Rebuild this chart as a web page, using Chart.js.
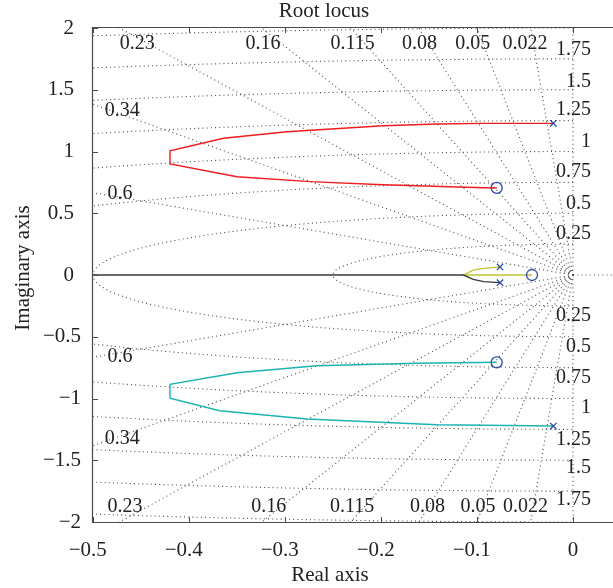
<!DOCTYPE html>
<html><head><meta charset="utf-8">
<script src="https://cdn.jsdelivr.net/npm/chart.js@4/dist/chart.umd.min.js"></script>
<style>
html,body{margin:0;padding:0;background:#fff;overflow:hidden;width:613px;height:588px;}
#wrap{position:relative;width:640px;height:588px;}
canvas{display:block;}
</style></head><body>
<div id="wrap"><canvas id="c" width="640" height="588"></canvas></div>
<script>
// ---- axis ticks ----
const xTicks = [-0.5, -0.4, -0.3, -0.2, -0.1, 0];
const yTicks = [-2, -1.5, -1, -0.5, 0, 0.5, 1, 1.5, 2];

// ---- grid (sgrid) values ----
const zetaValues = [0.022, 0.05, 0.08, 0.115, 0.16, 0.23, 0.34, 0.6];
const wnValues = [0.25, 0.5, 0.75, 1, 1.25, 1.5, 1.75, 2];
const wnLabels = ['0.25', '0.5', '0.75', '1', '1.25', '1.5', '1.75'];
const wnLabelY = [0.33, 0.58, 0.835, 1.077, 1.336, 1.564, 1.822];
const zetaTopLabels = ['0.022', '0.05', '0.08', '0.115', '0.16', '0.23'];
const zetaTopX = [-0.050, -0.1045, -0.160, -0.2295, -0.323, -0.454];
const zetaBotX = [-0.0496, -0.099, -0.1516, -0.230, -0.317, -0.4667];
const zetaSideLabels = ['0.34', '0.6'];
const zetaSideX = [-0.4695, -0.472];
const zetaSideY = [1.328, 0.66];

// ---- root locus branches ----
const redX = [-0.0205, -0.0934, -0.142, -0.1976, -0.298, -0.364, -0.4198, -0.4198, -0.350, -0.274, -0.198, -0.0934, -0.0795];
const redY = [1.228, 1.228, 1.223, 1.209, 1.160, 1.107, 1.006, 0.899, 0.796, 0.756, 0.731, 0.707, 0.704];
const cyanX = [-0.0795, -0.163, -0.267, -0.350, -0.4198, -0.4198, -0.368, -0.277, -0.142, -0.0205];
const cyanY = [-0.707, -0.715, -0.735, -0.791, -0.885, -0.998, -1.099, -1.166, -1.212, -1.223];
const yellowX = [-0.0427, -0.114, -0.104, -0.093, -0.076];
const yellowY = [0, 0, 0.040, 0.054, 0.065];
const blackX = [-0.55, -0.114, -0.104, -0.093, -0.076];
const blackY = [0, 0, -0.035, -0.054, -0.062];
const polesX = [-0.0205, -0.0205, -0.076, -0.076];
const polesY = [1.228, -1.223, 0.065, -0.062];
const zerosX = [-0.0795, -0.0795, -0.0427];
const zerosY = [0.705, -0.707, 0];

const pts = (xs, ys) => xs.map((x, i) => ({x: x, y: ys[i]}));

const GRID = '#4a4a4a';
const datasets = [];
datasets.push({data: pts(polesX, polesY), pointStyle: 'crossRot', pointRadius: 4.5, borderColor: '#2c4aa8', borderWidth: 1.3, backgroundColor: 'rgba(0,0,0,0)', showLine: false, order: 0});
datasets.push({data: pts(zerosX, zerosY), pointStyle: 'circle', pointRadius: 5.5, borderColor: '#2c4aa8', borderWidth: 1.3, backgroundColor: 'rgba(0,0,0,0)', showLine: false, order: 0});
const branch = (xs, ys, c) => ({data: pts(xs, ys), showLine: true, pointRadius: 0, borderColor: c, borderWidth: 1.4, tension: 0, fill: false, order: 1});
datasets.push(branch(redX, redY, '#f21c1c'));
datasets.push(branch(cyanX, cyanY, '#1bb3b3'));
datasets.push(branch(blackX, blackY, '#3a3a3a'));
datasets.push(branch(yellowX, yellowY, '#c4c434'));

const gridLine = (data) => ({data: data, showLine: true, pointRadius: 0, borderColor: GRID, borderWidth: 1.1, borderDash: [1, 3.2], tension: 0, fill: false, order: 5});
// damping lines (from origin outwards)
const R = 2.6;
zetaValues.forEach(z => {
  const s = Math.sqrt(1 - z * z);
  datasets.push(gridLine([{x: 0, y: 0}, {x: -R * z, y: R * s}]));
  datasets.push(gridLine([{x: 0, y: 0}, {x: -R * z, y: -R * s}]));
});
// zeta = 0 and zeta = 1 lines
datasets.push(gridLine([{x: 0, y: 0}, {x: 0, y: 2.2}]));
datasets.push(gridLine([{x: 0, y: 0}, {x: 0, y: -2.2}]));
datasets.push(gridLine([{x: 0, y: 0}, {x: 0.06, y: 0}]));
// natural frequency circles
wnValues.forEach(w => {
  const arc = [];
  for (let k = 0; k <= 1440; k++) {
    const a = Math.PI / 2 + Math.PI * k / 1440;
    arc.push({x: w * Math.cos(a), y: w * Math.sin(a)});
  }
  datasets.push(gridLine(arc));
});

const FONT = '"Liberation Serif", "Times New Roman", serif';
const TXT = '#222';

const decor = {
  id: 'decor',
  afterDraw(chart) {
    const ctx = chart.ctx, xs = chart.scales.x, ys = chart.scales.y, a = chart.chartArea;
    ctx.save();
    // frame
    ctx.strokeStyle = '#4a4a4a';
    ctx.lineWidth = 1.2;
    ctx.beginPath();
    ctx.moveTo(a.right + 5, a.top - 0.5); ctx.lineTo(a.left - 0.5, a.top - 0.5);
    ctx.lineTo(a.left - 0.5, a.bottom + 0.5); ctx.lineTo(a.right + 5, a.bottom + 0.5);
    ctx.stroke();
    // inward ticks
    ctx.lineWidth = 1;
    ctx.beginPath();
    xTicks.forEach(v => {
      const p = Math.round(xs.getPixelForValue(v)) + 0.5;
      ctx.moveTo(p, a.bottom); ctx.lineTo(p, a.bottom - 5);
      ctx.moveTo(p, a.top); ctx.lineTo(p, a.top + 5);
    });
    yTicks.forEach(v => {
      const p = Math.round(ys.getPixelForValue(v)) + 0.5;
      ctx.moveTo(a.left, p); ctx.lineTo(a.left + 5, p);
    });
    ctx.stroke();
    // grid labels
    ctx.fillStyle = TXT;
    ctx.font = '20px ' + FONT;
    ctx.textBaseline = 'middle';
    ctx.textAlign = 'center';
    zetaTopLabels.forEach((t, i) => {
      ctx.fillText(t, xs.getPixelForValue(zetaTopX[i]), ys.getPixelForValue(1.87));
      ctx.fillText(t, xs.getPixelForValue(zetaBotX[i]), ys.getPixelForValue(-1.879));
    });
    zetaSideLabels.forEach((t, i) => {
      ctx.fillText(t, xs.getPixelForValue(zetaSideX[i]), ys.getPixelForValue(zetaSideY[i]));
      ctx.fillText(t, xs.getPixelForValue(zetaSideX[i]), ys.getPixelForValue(-zetaSideY[i]));
    });
    ctx.textAlign = 'right';
    wnLabels.forEach((t, i) => {
      ctx.fillText(t, xs.getPixelForValue(0.0188), ys.getPixelForValue(wnLabelY[i]));
      ctx.fillText(t, xs.getPixelForValue(0.0188), ys.getPixelForValue(-wnLabelY[i]));
    });
    // titles
    ctx.font = '21px ' + FONT;
    ctx.textAlign = 'center';
    ctx.textBaseline = 'alphabetic';
    ctx.fillText('Root locus', 324, 17);
    ctx.fillText('Real axis', 330, 581);
    ctx.translate(29, 268);
    ctx.rotate(-Math.PI / 2);
    ctx.fillText('Imaginary axis', 0, 0);
    ctx.restore();
  }
};

const fmt = v => {
  const s = String(Math.round(v * 10) / 10);
  return s.replace('-', '\u2212');
};

new Chart(document.getElementById('c'), {
  type: 'scatter',
  data: {datasets: datasets},
  options: {
    animation: false,
    responsive: false,
    devicePixelRatio: 1,
    events: [],
    layout: {padding: {left: 0, right: 19, top: 28, bottom: 0}},
    plugins: {legend: {display: false}, tooltip: {enabled: false}, title: {display: false}},
    scales: {
      x: {
        type: 'linear', min: -0.5, max: 0.05,
        grid: {display: false}, border: {display: false},
        afterBuildTicks: s => { s.ticks = xTicks.map(v => ({value: v})); },
        afterFit: s => { s.height = 66; },
        ticks: {
          padding: 8, color: TXT, font: {family: FONT, size: 21}, maxRotation: 0,
          callback: v => v < 0 ? fmt(v) + '\u2002' : fmt(v)
        }
      },
      y: {
        type: 'linear', min: -2, max: 2,
        grid: {display: false}, border: {display: false},
        afterBuildTicks: s => { s.ticks = yTicks.map(v => ({value: v})); },
        afterFit: s => { s.width = 93; },
        ticks: {
          padding: 4, color: TXT, font: {family: FONT, size: 21},
          callback: v => v < 0 ? String(v).replace('-', '\u2212') : String(v) + '\u2004'
        }
      }
    }
  },
  plugins: [decor]
});
</script>
</body></html>
